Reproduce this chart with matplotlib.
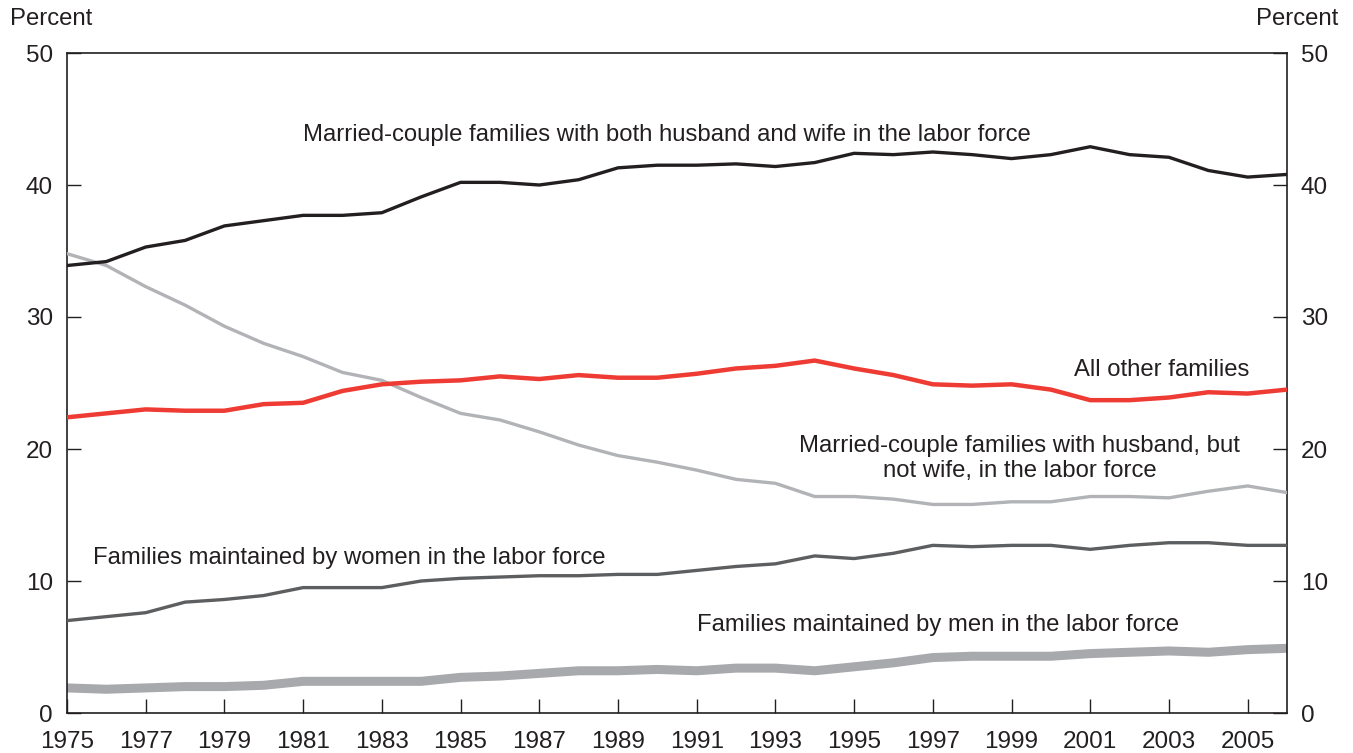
import matplotlib
matplotlib.use("Agg")
import matplotlib.pyplot as plt

plt.rcParams['font.family'] = ['Liberation Sans', 'DejaVu Sans']

years = list(range(1975, 2007))

both_in_lf = [33.9, 34.2, 35.3, 35.8, 36.9, 37.3, 37.7, 37.7, 37.9, 39.1,
              40.2, 40.2, 40.0, 40.4, 41.3, 41.5, 41.5, 41.6, 41.4, 41.7,
              42.4, 42.3, 42.5, 42.3, 42.0, 42.3, 42.9, 42.3, 42.1, 41.1,
              40.6, 40.8]
all_other = [22.4, 22.7, 23.0, 22.9, 22.9, 23.4, 23.5, 24.4, 24.9, 25.1,
             25.2, 25.5, 25.3, 25.6, 25.4, 25.4, 25.7, 26.1, 26.3, 26.7,
             26.1, 25.6, 24.9, 24.8, 24.9, 24.5, 23.7, 23.7, 23.9, 24.3,
             24.2, 24.5]
husband_only = [34.8, 33.9, 32.3, 30.9, 29.3, 28.0, 27.0, 25.8, 25.2, 23.9,
                22.7, 22.2, 21.3, 20.3, 19.5, 19.0, 18.4, 17.7, 17.4, 16.4,
                16.4, 16.2, 15.8, 15.8, 16.0, 16.0, 16.4, 16.4, 16.3, 16.8,
                17.2, 16.7]
women_lf = [7.0, 7.3, 7.6, 8.4, 8.6, 8.9, 9.5, 9.5, 9.5, 10.0,
            10.2, 10.3, 10.4, 10.4, 10.5, 10.5, 10.8, 11.1, 11.3, 11.9,
            11.7, 12.1, 12.7, 12.6, 12.7, 12.7, 12.4, 12.7, 12.9, 12.9,
            12.7, 12.7]
men_lf = [1.9, 1.8, 1.9, 2.0, 2.0, 2.1, 2.4, 2.4, 2.4, 2.4,
          2.7, 2.8, 3.0, 3.2, 3.2, 3.3, 3.2, 3.4, 3.4, 3.2,
          3.5, 3.8, 4.2, 4.3, 4.3, 4.3, 4.5, 4.6, 4.7, 4.6,
          4.8, 4.9]

xtick_years = list(range(1975, 2006, 2))
yticks = [0, 10, 20, 30, 40, 50]

TXT = '#231f20'
W, H = 1353, 753
fig = plt.figure(figsize=(W / 100, H / 100), dpi=100)
ax = fig.add_axes([67 / W, 40 / H, (1287 - 67) / W, (713 - 53) / H])

ax.plot(years, men_lf, color='#a7a9ac', lw=6.5, solid_joinstyle='round', solid_capstyle='butt', zorder=2)
ax.plot(years, women_lf, color='#5d5e60', lw=2.4, solid_joinstyle='round', zorder=3)
ax.plot(years, husband_only, color='#b1b3b6', lw=2.4, solid_joinstyle='round', zorder=3)
ax.plot(years, all_other, color='#ee3b33', lw=3.2, solid_joinstyle='round', zorder=4)
ax.plot(years, both_in_lf, color='#231f20', lw=2.4, solid_joinstyle='round', zorder=5)

ax.set_xlim(1975, 2006)
ax.set_ylim(0, 50)

ax.set_xticks(xtick_years)
ax.set_xticklabels([str(y) for y in xtick_years])
ax.set_yticks(yticks)
ax.set_yticklabels([str(v) for v in yticks])

for s in ax.spines.values():
    s.set_color(TXT)
    s.set_linewidth(1.2)

ax.tick_params(axis='x', direction='in', length=10, width=1.0, color=TXT,
               labelsize=17.5, labelcolor=TXT, pad=13)
ax.tick_params(axis='y', direction='in', length=10, width=1.0, color=TXT,
               labelsize=17.5, labelcolor=TXT, pad=10, right=True, labelright=True)

fs = 17.2
ax.text(1981.0, 43.8, 'Married-couple families with both husband and wife in the labor force',
        fontsize=fs, color=TXT, ha='left', va='center')
ax.text(2005.05, 26.0, 'All other families', fontsize=fs, color=TXT, ha='right', va='center')
ax.text(1999.2, 19.3, 'Married-couple families with husband, but\nnot wife, in the labor force',
        fontsize=fs, color=TXT, ha='center', va='center', linespacing=1.2)
ax.text(1975.66, 11.74, 'Families maintained by women in the labor force',
        fontsize=fs, color=TXT, ha='left', va='center')
ax.text(1991.0, 6.67, 'Families maintained by men in the labor force',
        fontsize=fs, color=TXT, ha='left', va='center')

fig.text(10 / W, 1 - 19 / H, 'Percent', fontsize=17.2, color=TXT, ha='left', va='center')
fig.text(1338 / W, 1 - 19 / H, 'Percent', fontsize=17.2, color=TXT, ha='right', va='center')

fig.savefig('out.png', dpi=100, facecolor='white')
